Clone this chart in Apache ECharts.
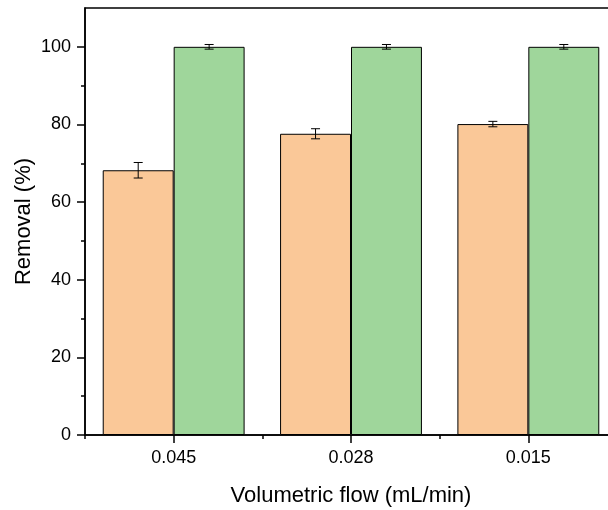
<!DOCTYPE html>
<html>
<head>
<meta charset="utf-8">
<script src="https://cdn.jsdelivr.net/npm/echarts@6/dist/echarts.min.js"></script>
<style>
  html, body { margin: 0; padding: 0; background: #fff; }
  #chart { width: 608px; height: 510px; }
</style>
</head>
<body>
<div id="chart"></div>
<script>
// Flow rates on the category axis
const categories = ['0.045', '0.028', '0.015'];
// Removal (%) of the two series, with standard deviations
const orangeValues = [68.2, 77.6, 80.1];
const orangeErrors = [2.0, 1.3, 0.7];
const greenValues = [100, 100, 100];
const greenErrors = [0.6, 0.6, 0.6];
// Y tick labels (major) and minor tick positions
const yMajorTicks = [0, 20, 40, 60, 80, 100];
const yMinorTicks = [10, 30, 50, 70, 90];

const FONT = 'Liberation Sans, Arial, sans-serif';
const AXIS_COLOR = '#000';

const chart = echarts.init(document.getElementById('chart'), null, { renderer: 'canvas' });

// Error bar drawn centred on a bar; offset is the fraction of the band width
function errorBars(values, errors, offset) {
  return {
    type: 'custom',
    xAxisIndex: 0,
    yAxisIndex: 0,
    z: 5,
    data: values.map((v, i) => [i, v, errors[i]]),
    renderItem: function (params, api) {
      const idx = api.value(0);
      const v = api.value(1);
      const e = api.value(2);
      const band = api.size([1, 0])[0];
      const hi = api.coord([idx, v + e]);
      const lo = api.coord([idx, v - e]);
      const x = hi[0] + offset * band;
      const cap = 4.5;
      const style = { stroke: '#000', lineWidth: 1 };
      return {
        type: 'group',
        children: [
          { type: 'line', shape: { x1: x, y1: hi[1], x2: x, y2: lo[1] }, style: style },
          { type: 'line', shape: { x1: x - cap, y1: hi[1], x2: x + cap, y2: hi[1] }, style: style },
          { type: 'line', shape: { x1: x - cap, y1: lo[1], x2: x + cap, y2: lo[1] }, style: style }
        ]
      };
    }
  };
}

const option = {
  animation: false,
  backgroundColor: '#fff',
  grid: {
    left: 85, top: 8, width: 532, height: 427,
    outerBoundsMode: 'none',
    containLabel: false,
    show: true, borderColor: AXIS_COLOR, borderWidth: 1.5, backgroundColor: 'transparent'
  },
  xAxis: [
    {
      type: 'category',
      data: categories,
      position: 'bottom',
      name: 'Volumetric flow (mL/min)',
      nameLocation: 'middle',
      nameGap: 50,
      nameTextStyle: { fontFamily: FONT, fontSize: 22, color: '#000' },
      axisLine: { show: true, lineStyle: { color: AXIS_COLOR, width: 1.5 } },
      axisTick: { show: true, alignWithLabel: true, length: 8, lineStyle: { color: AXIS_COLOR, width: 1.5 } },
      axisLabel: { fontFamily: FONT, fontSize: 18, color: '#000', margin: 14 },
      splitLine: { show: false }
    },
    {
      // boundary ticks between the categories
      type: 'category',
      data: categories,
      position: 'bottom',
      axisLine: { show: false },
      axisTick: { show: true, alignWithLabel: false, length: 4, lineStyle: { color: AXIS_COLOR, width: 1.5 } },
      axisLabel: { show: false },
      splitLine: { show: false }
    }
  ],
  yAxis: [
    {
      type: 'value',
      min: 0,
      max: 110,
      interval: 10,
      position: 'left',
      name: 'Removal (%)',
      nameLocation: 'middle',
      nameGap: 50,
      nameMoveOverlap: false,
      nameTextStyle: { fontFamily: FONT, fontSize: 22, color: '#000' },
      axisLine: { show: true, lineStyle: { color: AXIS_COLOR, width: 1.5 } },
      axisTick: { show: true, length: 8, customValues: yMajorTicks, lineStyle: { color: AXIS_COLOR, width: 1.5 } },
      axisLabel: { fontFamily: FONT, fontSize: 18, color: '#000', margin: 14, customValues: yMajorTicks },
      splitLine: { show: false }
    },
    {
      // minor ticks
      type: 'value',
      min: 0,
      max: 110,
      interval: 10,
      position: 'left',
      axisLine: { show: false },
      axisTick: { show: true, length: 4, customValues: yMinorTicks, lineStyle: { color: AXIS_COLOR, width: 1.5 } },
      axisLabel: { show: false },
      splitLine: { show: false }
    }
  ],
  series: [
    {
      type: 'bar',
      data: orangeValues,
      barCategoryGap: '20%',
      barGap: '0%',
      itemStyle: { color: '#FAC898', borderColor: '#000', borderWidth: 1 }
    },
    {
      type: 'bar',
      data: greenValues,
      barCategoryGap: '20%',
      barGap: '0%',
      itemStyle: { color: '#9FD69B', borderColor: '#000', borderWidth: 1 }
    },
    errorBars(orangeValues, orangeErrors, -0.2),
    errorBars(greenValues, greenErrors, 0.2)
  ]
};

chart.setOption(option);
</script>
</body>
</html>
